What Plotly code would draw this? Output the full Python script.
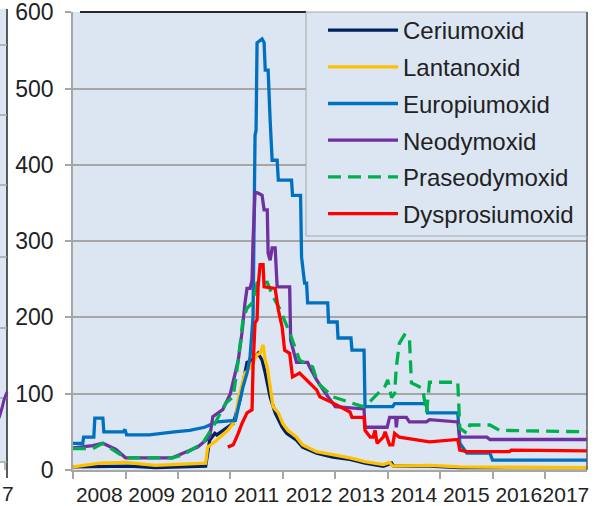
import plotly.graph_objects as go

# ---------------- data ----------------
series_names = ["Ceriumoxid", "Lantanoxid", "Europiumoxid", "Neodymoxid", "Praseodymoxid", "Dysprosiumoxid"]
series_colors = ["#002060", "#FFC000", "#0070C0", "#7030A0", "#00B050", "#FF0000"]

ce_dates = ["2008-01-01", "2008-08-17", "2009-01-28", "2009-07-27", "2010-07-13", "2010-08-10", "2010-09-15",
            "2010-09-28", "2011-01-21", "2011-03-09", "2011-04-27", "2011-06-01", "2011-07-13", "2011-08-10",
            "2011-09-01", "2011-10-05", "2011-11-09", "2011-12-28", "2012-01-28", "2012-04-06", "2012-05-18",
            "2012-08-24", "2012-12-14", "2013-04-13", "2013-07-27", "2013-12-01", "2014-01-28", "2014-02-10",
            "2014-10-19", "2015-05-18", "2017-10-20"]
ce_vals = [4, 4, 5, 3, 5, 39, 48, 46, 61, 92, 141, 144, 153, 144, 127, 96, 75, 56, 48, 39, 30, 22, 17, 14, 9, 5,
           9, 5, 5, 3, 3]

la_dates = ["2008-01-01", "2008-07-06", "2009-01-01", "2009-07-27", "2010-07-13", "2010-07-27", "2010-09-28",
            "2010-12-14", "2011-02-05", "2011-02-25", "2011-04-13", "2011-05-18", "2011-07-06", "2011-07-27",
            "2011-08-17", "2011-09-01", "2011-09-15", "2011-10-05", "2011-10-26", "2011-12-01", "2012-01-01",
            "2012-02-05", "2012-04-06", "2012-05-18", "2012-08-24", "2012-12-14", "2013-04-13", "2013-07-27",
            "2013-12-01", "2014-01-14", "2014-02-05", "2014-10-19", "2015-05-18", "2017-10-20"]
la_vals = [4, 9, 10, 6, 9, 30, 39, 52, 65, 92, 127, 134, 151, 153, 164, 144, 135, 109, 83, 75, 61, 52, 43, 33,
           24, 20, 16, 11, 7, 10, 5, 6, 4, 3]

eu_dates = ["2008-01-01", "2008-03-09", "2008-03-15", "2008-05-25", "2008-06-01", "2008-07-27", "2008-08-03",
            "2008-12-14", "2008-12-28", "2009-01-08", "2009-06-15", "2009-08-24", "2009-12-07", "2010-03-23",
            "2010-07-06", "2010-08-10", "2010-09-28", "2011-02-05", "2011-02-25", "2011-03-30", "2011-04-27",
            "2011-05-18", "2011-06-08", "2011-06-22", "2011-06-29", "2011-07-06", "2011-08-10", "2011-08-24",
            "2011-09-01", "2011-09-21", "2011-10-05", "2011-10-19", "2011-11-23", "2011-12-01", "2012-03-02",
            "2012-03-09", "2012-05-04", "2012-05-11", "2012-06-01", "2012-06-15", "2012-06-22", "2012-11-09",
            "2012-11-15", "2013-01-14", "2013-01-20", "2013-04-20", "2013-04-27", "2013-07-20", "2013-07-27",
            "2014-02-05", "2014-02-18", "2014-09-28", "2014-10-05", "2015-05-04", "2015-05-18", "2015-07-06",
            "2015-12-14", "2016-01-01", "2017-10-20"]
eu_vals = [35, 35, 43, 43, 68, 68, 50, 50, 53, 46, 46, 48, 50, 52, 56, 59, 63, 65, 83, 109, 127, 148, 200, 439,
           445, 560, 565, 560, 524, 524, 459, 406, 406, 380, 380, 360, 360, 279, 245, 245, 219, 219, 194, 194,
           173, 173, 157, 157, 83, 83, 87, 87, 75, 75, 35, 22, 22, 13, 13]

nd_dates = ["2008-01-01", "2008-05-18", "2008-07-27", "2008-10-26", "2009-01-01", "2009-11-23", "2010-02-05",
            "2010-05-18", "2010-08-10", "2010-09-01", "2010-11-09", "2011-01-01", "2011-02-25", "2011-03-23",
            "2011-04-13", "2011-04-27", "2011-05-18", "2011-06-01", "2011-06-08", "2011-06-22", "2011-07-13",
            "2011-08-10", "2011-08-24", "2011-09-15", "2011-09-21", "2011-10-05", "2011-10-19", "2011-11-09",
            "2011-11-23", "2012-02-18", "2012-02-25", "2012-04-06", "2012-06-22", "2012-07-06", "2012-08-24",
            "2012-10-19", "2013-01-01", "2013-07-20", "2013-07-27", "2013-12-28", "2014-01-14", "2014-02-25",
            "2014-03-02", "2014-03-09", "2014-05-11", "2014-06-01", "2014-09-28", "2014-10-19", "2015-05-04",
            "2015-05-18", "2015-11-23", "2015-12-14", "2017-10-20"]
nd_vals = [29, 32, 35, 27, 16, 16, 22, 30, 43, 70, 79, 100, 144, 180, 219, 238, 238, 249, 300, 364, 363, 360,
           341, 341, 284, 275, 291, 291, 240, 240, 170, 141, 141, 135, 118, 102, 83, 80, 56, 56, 69, 69, 56, 69,
           69, 63, 63, 66, 63, 43, 43, 40, 40]

pr_dates = ["2008-01-01", "2008-05-18", "2008-07-27", "2008-10-26", "2009-01-01", "2009-11-23", "2010-02-05",
            "2010-06-22", "2010-09-01", "2010-12-01", "2011-01-21", "2011-02-25", "2011-03-30", "2011-04-27",
            "2011-06-08", "2011-07-06", "2011-09-15", "2011-10-26", "2011-12-14", "2012-02-18", "2012-04-27",
            "2012-07-27", "2012-09-01", "2012-12-14", "2013-04-13", "2013-07-13", "2013-09-01", "2013-10-26",
            "2013-12-14", "2014-01-01", "2014-01-28", "2014-02-18", "2014-03-02", "2014-03-23", "2014-04-27",
            "2014-06-01", "2014-06-15", "2014-07-20", "2014-09-01", "2014-09-28", "2014-10-19", "2015-05-04",
            "2015-05-18", "2015-07-06", "2015-07-27", "2015-12-14", "2016-02-18", "2017-10-20"]
pr_vals = [28, 28, 35, 24, 16, 16, 20, 35, 56, 88, 96, 144, 197, 212, 220, 245, 246, 227, 210, 180, 144, 135,
           114, 96, 89, 83, 90, 100, 110, 118, 95, 100, 135, 166, 177, 174, 114, 111, 107, 75, 115, 115, 55, 48,
           59, 59, 52, 50]

dy_dates = ["2010-12-14", "2011-01-21", "2011-02-25", "2011-03-23", "2011-04-27", "2011-06-01", "2011-06-08",
            "2011-06-22", "2011-07-06", "2011-07-13", "2011-07-27", "2011-08-17", "2011-08-24", "2011-11-09",
            "2011-12-01", "2011-12-28", "2012-01-14", "2012-02-18", "2012-03-09", "2012-04-27", "2012-07-06",
            "2012-08-24", "2012-09-15", "2012-12-14", "2013-04-13", "2013-04-27", "2013-07-20", "2013-07-27",
            "2013-09-01", "2013-09-21", "2013-10-05", "2013-10-19", "2013-12-01", "2013-12-14", "2014-01-14",
            "2014-02-05", "2014-02-18", "2014-03-23", "2014-10-19", "2015-03-30", "2015-05-04", "2015-05-18",
            "2015-07-06", "2016-04-27", "2016-05-10", "2017-10-20"]
dy_vals = [30, 33, 48, 61, 75, 79, 135, 193, 197, 240, 269, 269, 240, 238, 210, 187, 157, 153, 122, 127, 114,
           105, 96, 88, 76, 69, 69, 52, 43, 43, 52, 35, 43, 50, 33, 33, 48, 43, 37, 39, 40, 26, 24, 24, 26, 25]

all_dates = [ce_dates, la_dates, eu_dates, nd_dates, pr_dates, dy_dates]
all_vals = [ce_vals, la_vals, eu_vals, nd_vals, pr_vals, dy_vals]

y_ticks = [0, 100, 200, 300, 400, 500, 600]
year_labels = ["2008", "2009", "2010", "2011", "2012", "2013", "2014", "2015", "2016", "2017"]
year_label_dates = ["2008-07-02", "2009-07-02", "2010-07-02", "2011-07-02", "2012-07-02", "2013-07-02",
                    "2014-07-02", "2015-07-02", "2016-07-02", "2017-05-26"]
x_range = ["2008-01-01", "2017-10-20"]

# ---------------- figure ----------------
BG = "#DCE6F2"
GRID = "#a6a6a6"
TXT = "#222222"

fig = go.Figure()
for i, name in enumerate(series_names):
    dash = "13px,7px" if name == "Praseodymoxid" else "solid"
    fig.add_trace(go.Scatter(
        x=all_dates[i], y=all_vals[i], mode="lines", name=name,
        legendgroup=name,
        line=dict(color=series_colors[i], width=3.3, dash=dash),
    ))

# pixel -> paper helpers for decorative shapes
L, R, T, B = 73, 9, 12, 36
W, H = 596, 506
pw, ph = W - L - R, H - T - B


def px_x(p):
    return (p - L) / pw


def px_y(p):
    return (H - B - p) / ph


shapes = [
    # top frame (dark)
    dict(type="line", xref="paper", yref="paper", x0=px_x(80), x1=px_x(306), y0=1, y1=1,
         line=dict(color="#262626", width=2)),
    # right frame
    dict(type="line", xref="paper", yref="paper", x0=1, x1=1, y0=0, y1=1,
         line=dict(color="#595959", width=1.5)),
    # legend box
    dict(type="rect", xref="paper", yref="paper", x0=px_x(306), x1=1, y0=px_y(236), y1=1,
         fillcolor=BG, line=dict(color=GRID, width=1), layer="above"),
    dict(type="line", xref="paper", yref="paper", x0=1, x1=1, y0=px_y(236), y1=1,
         line=dict(color="#595959", width=1.5), layer="above"),
    # neighbouring panel sliver on the left
    dict(type="rect", xref="paper", yref="paper", x0=px_x(-2), x1=px_x(7), y0=px_y(462), y1=px_y(9),
         fillcolor=BG, line=dict(width=0), layer="below"),
    dict(type="line", xref="paper", yref="paper", x0=px_x(7), x1=px_x(7), y0=px_y(478), y1=px_y(9),
         line=dict(color="#262626", width=1.5)),
    dict(type="line", xref="paper", yref="paper", x0=px_x(-2), x1=px_x(7), y0=px_y(462), y1=px_y(462),
         line=dict(color=GRID, width=1.5)),
    dict(type="line", xref="paper", yref="paper", x0=px_x(5), x1=px_x(5), y0=px_y(462), y1=px_y(470),
         line=dict(color=GRID, width=1.5)),
]
for gy in [45, 115, 185, 257, 328, 398]:
    shapes.append(dict(type="line", xref="paper", yref="paper", x0=px_x(-2), x1=px_x(7),
                       y0=px_y(gy), y1=px_y(gy), line=dict(color=GRID, width=1.5)))
shapes.append(dict(type="path", xref="paper", yref="paper",
                   path=f"M {px_x(-1)},{px_y(418)} L {px_x(2)},{px_y(408)} L {px_x(4)},{px_y(400)} L {px_x(7)},{px_y(392)}",
                   line=dict(color="#7030A0", width=3)))

fig.update_layout(
    width=W, height=H,
    margin=dict(l=L, r=R, t=T, b=B, autoexpand=False),
    paper_bgcolor="white",
    plot_bgcolor=BG,
    font=dict(family="Liberation Sans, Arial, sans-serif", color=TXT, size=21),
    shapes=shapes,
    annotations=[dict(text="7", xref="paper", yref="paper", x=px_x(0), y=px_y(494),
                      xanchor="left", yanchor="middle", showarrow=False,
                      font=dict(size=21, color=TXT))],
    legend=dict(
        x=px_x(323), xanchor="left", y=px_y(8), yanchor="top",
        bgcolor="rgba(0,0,0,0)", borderwidth=0,
        font=dict(size=24, color=TXT),
        tracegroupgap=2.5, itemwidth=70,
    ),
    showlegend=True,
)

fig.update_xaxes(
    type="date", range=x_range, automargin=False,
    tickmode="array", tickvals=year_label_dates, ticktext=year_labels, ticks="",
    tickangle=0, ticklabeloverflow="allow",
    minor=dict(tick0="2008-01-01", dtick="M12", ticks="outside", ticklen=7, tickcolor=GRID,
               tickwidth=1.5, showgrid=False),
    showgrid=False, zeroline=False,
    showline=True, linecolor=GRID, linewidth=1.5,
    tickfont=dict(size=21, color=TXT), ticklabelstandoff=5,
)
fig.update_yaxes(
    range=[0, 600.3], tickvals=y_ticks, automargin=False, ticklabeloverflow="allow",
    showgrid=True, gridcolor=GRID, gridwidth=1.5,
    zeroline=False, showline=True, linecolor=GRID, linewidth=1.5,
    ticks="outside", ticklen=6, tickcolor=GRID, tickwidth=1.5,
    tickfont=dict(size=23, color=TXT), ticklabelstandoff=7,
)

fig.write_html("out.html", config={"displayModeBar": False},
               post_script="document.body.style.margin='0px';document.body.style.padding='0px';")
